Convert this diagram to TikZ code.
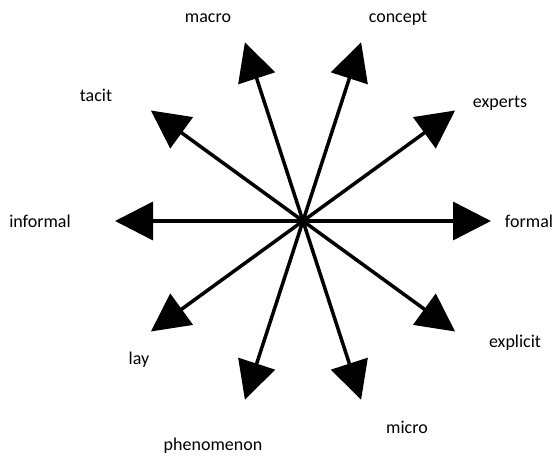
\documentclass[tikz,border=0pt]{standalone}
\usepackage{fontspec}
\setmainfont{Carlito}
\usetikzlibrary{arrows.meta}
\tikzset{
  ray/.style={line width=3.5pt, -{Triangle[length=38pt,width=38pt]}},
  lbl/.style={anchor=base, inner sep=0pt, font=\fontsize{18}{20}\selectfont}
}
\begin{document}
\begin{tikzpicture}[x=1pt,y=-1pt]
\useasboundingbox (0,0) rectangle (555,457);
\coordinate (c) at (303,221);
\coordinate (t-formal) at (491,221);
\coordinate (t-experts) at (455.1,110.5);
\coordinate (t-concept) at (361.1,42.2);
\coordinate (t-macro) at (244.9,42.2);
\coordinate (t-tacit) at (150.9,110.5);
\coordinate (t-informal) at (115,221);
\coordinate (t-lay) at (150.9,331.5);
\coordinate (t-phenomenon) at (244.9,399.8);
\coordinate (t-micro) at (361.1,399.8);
\coordinate (t-explicit) at (455.1,331.5);
\foreach \n in {formal,experts,concept,macro,tacit,informal,lay,phenomenon,micro,explicit}{
  \draw[ray] (c) -- (t-\n);
}
\node[lbl] (l-macro) at (208,23) {macro};
\node[lbl] (l-concept) at (398,23) {concept};
\node[lbl] (l-experts) at (500,108) {experts};
\node[lbl] (l-formal) at (529,228) {formal};
\node[lbl] (l-explicit) at (515,348) {explicit};
\node[lbl] (l-micro) at (407,434) {micro};
\node[lbl] (l-phenomenon) at (213,450) {phenomenon};
\node[lbl] (l-lay) at (139,365) {lay};
\node[lbl] (l-informal) at (40,228) {informal};
\node[lbl] (l-tacit) at (96,102) {tacit};
\end{tikzpicture}
\end{document}
